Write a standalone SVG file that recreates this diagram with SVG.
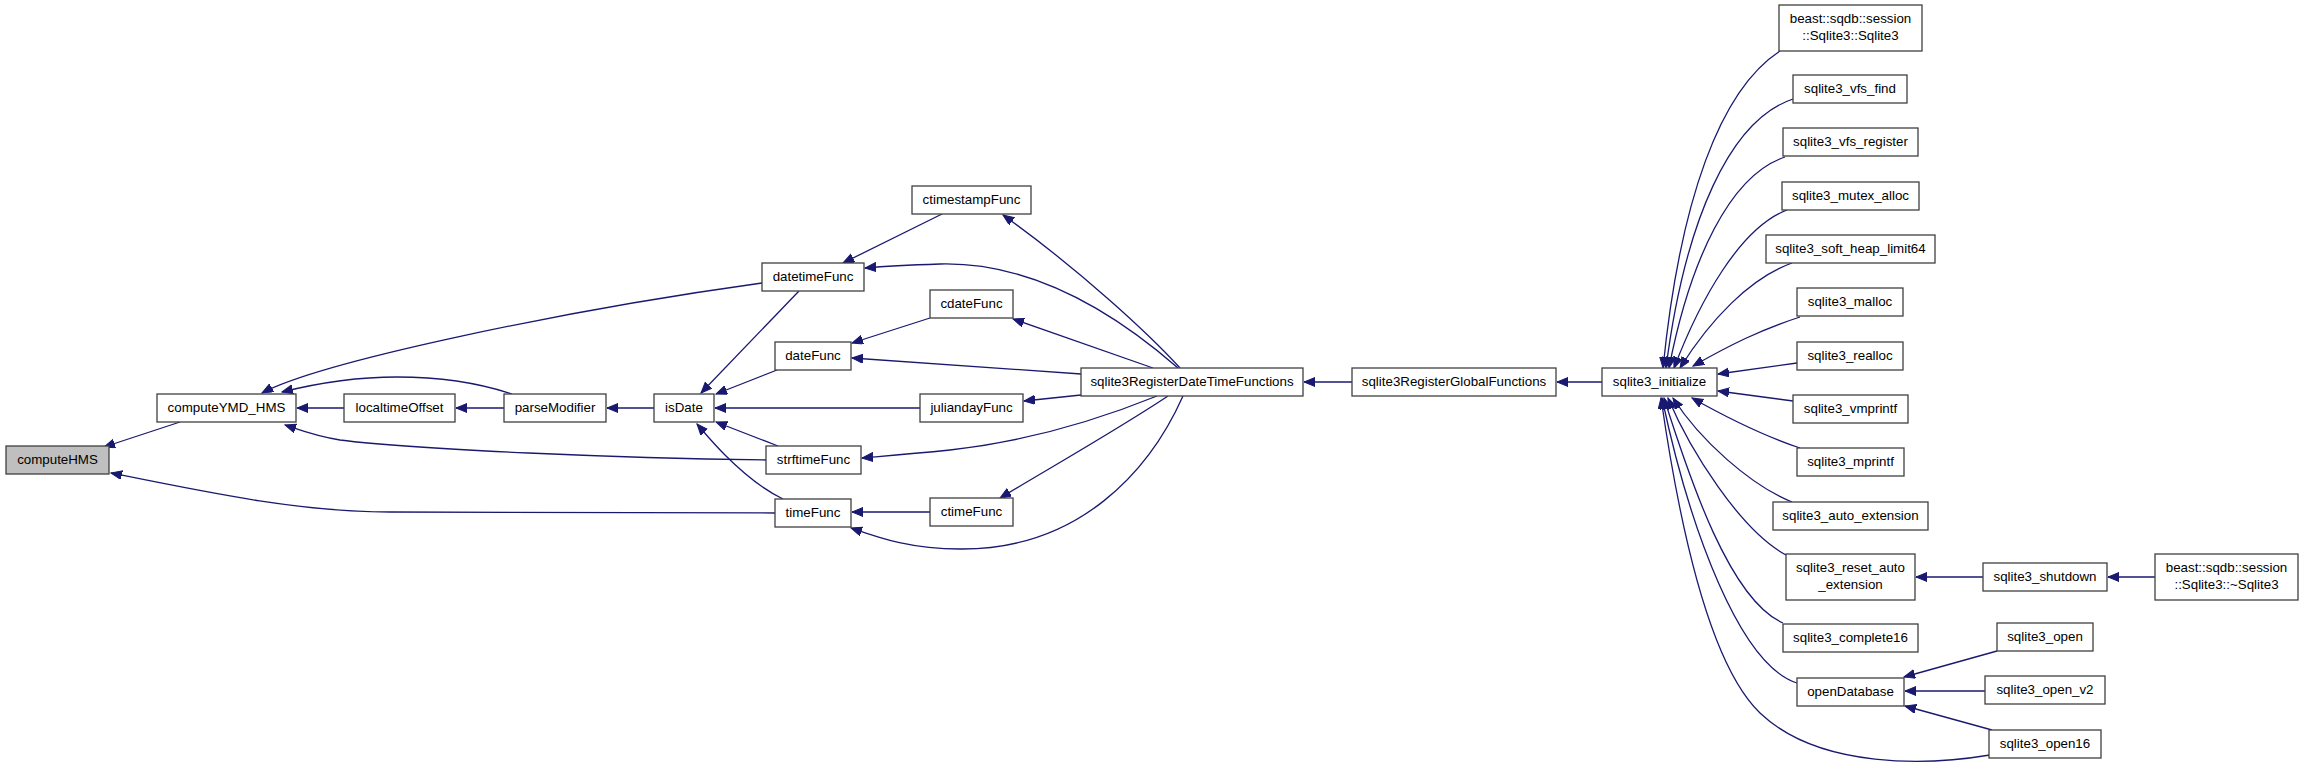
<svg xmlns="http://www.w3.org/2000/svg" width="2304" height="767" viewBox="0 0 2304 767">
<defs>
<style>
.node rect{fill:#ffffff;stroke:#404040;stroke-width:1.3}
.node.root rect{fill:#bfbfbf}
.node text{font-family:"Liberation Sans",Arial,sans-serif;font-size:13.33px;text-anchor:middle;fill:#000000}
.edge{fill:none;stroke:#191970;stroke-width:1.3;marker-end:url(#arrow)}
</style>
<marker id="arrow" markerUnits="userSpaceOnUse" markerWidth="12" markerHeight="10" refX="11" refY="4.5" orient="auto">
<path d="M0,0 L11,4.5 L0,9 z" fill="#191970" stroke="#191970" stroke-width="1"/>
</marker>
</defs>
<rect x="0" y="0" width="2304" height="767" fill="#ffffff"/>
<g id="connectors">
<path class="edge" d="M180,422 L104,447"/>
<path class="edge" d="M775,513 L390,512 C300,512 210,493 111,473"/>
<path class="edge" d="M344,408 L297,408"/>
<path class="edge" d="M762,283 C560,311 320,362 262,393"/>
<path class="edge" d="M512,394 C470,380 430,377 397,377 C350,377 310,385 282,392"/>
<path class="edge" d="M766,460 C620,458 420,450 340,440 C315,436 300,430 285,425"/>
<path class="edge" d="M504,408 L456,408"/>
<path class="edge" d="M654,408 L607,408"/>
<path class="edge" d="M799,291 L701,393"/>
<path class="edge" d="M777,370 L716,394"/>
<path class="edge" d="M920,408 L715,408"/>
<path class="edge" d="M778,446 L716,422"/>
<path class="edge" d="M783,499 C760,488 740,470 725,455 C712,442 704,432 697,424"/>
<path class="edge" d="M942,214 L843,263"/>
<path class="edge" d="M1178,368 C1100,300 1020,262 940,264 C910,265 888,266 865,268"/>
<path class="edge" d="M1180,368 C1150,335 1080,270 1003,215"/>
<path class="edge" d="M930,318 L852,343"/>
<path class="edge" d="M1153,368 L1013,319"/>
<path class="edge" d="M1081,374 L852,358"/>
<path class="edge" d="M1081,395 L1024,401"/>
<path class="edge" d="M1157,396 C1110,415 1040,440 950,450 C910,454 885,456 862,458"/>
<path class="edge" d="M1168,396 C1120,428 1060,462 1000,498"/>
<path class="edge" d="M1183,396 C1150,470 1080,550 960,549 C910,549 880,538 851,528"/>
<path class="edge" d="M930,512 L852,512"/>
<path class="edge" d="M1352,382 L1304,382"/>
<path class="edge" d="M1602,382 L1557,382"/>
<path class="edge" d="M1780,51 C1720,90 1680,200 1663,368"/>
<path class="edge" d="M1793,99 C1730,120 1685,220 1666,368"/>
<path class="edge" d="M1785,157 C1730,175 1690,260 1669,368"/>
<path class="edge" d="M1787,210 C1740,228 1700,300 1674,368"/>
<path class="edge" d="M1792,263 C1750,278 1710,320 1680,368"/>
<path class="edge" d="M1800,317 C1760,330 1730,345 1693,366"/>
<path class="edge" d="M1797,363 L1718,374"/>
<path class="edge" d="M1793,401 L1718,391"/>
<path class="edge" d="M1800,448 C1770,438 1740,425 1692,398"/>
<path class="edge" d="M1792,502 C1750,485 1700,440 1673,398"/>
<path class="edge" d="M1786,555 C1740,530 1690,450 1668,398"/>
<path class="edge" d="M1783,623 C1730,600 1690,480 1664,398"/>
<path class="edge" d="M1797,683 C1740,665 1690,530 1662,398"/>
<path class="edge" d="M1990,755 C1930,765 1820,770 1760,713 C1710,665 1680,530 1661,398"/>
<path class="edge" d="M1983,577 L1916,577"/>
<path class="edge" d="M2155,577 L2108,577"/>
<path class="edge" d="M1997,651 L1904,677"/>
<path class="edge" d="M1985,691 L1905,691"/>
<path class="edge" d="M1992,730 L1905,706"/>
</g>
<g id="computeHMS" class="node root"><rect x="6" y="446" width="103" height="28"/><text x="57.5" y="464">computeHMS</text></g>
<g id="computeYMD_HMS" class="node"><rect x="157" y="394" width="139" height="28"/><text x="226.5" y="412">computeYMD_HMS</text></g>
<g id="localtimeOffset" class="node"><rect x="344" y="394" width="111" height="28"/><text x="399.5" y="412">localtimeOffset</text></g>
<g id="parseModifier" class="node"><rect x="504" y="394" width="102" height="28"/><text x="555" y="412">parseModifier</text></g>
<g id="isDate" class="node"><rect x="654" y="394" width="60" height="28"/><text x="684" y="412">isDate</text></g>
<g id="datetimeFunc" class="node"><rect x="762" y="263" width="102" height="28"/><text x="813" y="281">datetimeFunc</text></g>
<g id="ctimestampFunc" class="node"><rect x="912" y="186" width="119" height="28"/><text x="971.5" y="204">ctimestampFunc</text></g>
<g id="cdateFunc" class="node"><rect x="930" y="290" width="83" height="28"/><text x="971.5" y="308">cdateFunc</text></g>
<g id="dateFunc" class="node"><rect x="775" y="342" width="76" height="28"/><text x="813" y="360">dateFunc</text></g>
<g id="juliandayFunc" class="node"><rect x="920" y="394" width="103" height="28"/><text x="971.5" y="412">juliandayFunc</text></g>
<g id="strftimeFunc" class="node"><rect x="766" y="446" width="95" height="28"/><text x="813.5" y="464">strftimeFunc</text></g>
<g id="timeFunc" class="node"><rect x="775" y="499" width="76" height="28"/><text x="813" y="517">timeFunc</text></g>
<g id="ctimeFunc" class="node"><rect x="930" y="498" width="83" height="28"/><text x="971.5" y="516">ctimeFunc</text></g>
<g id="sqlite3RegisterDateTimeFunctions" class="node"><rect x="1081" y="368" width="222" height="28"/><text x="1192" y="386">sqlite3RegisterDateTimeFunctions</text></g>
<g id="sqlite3RegisterGlobalFunctions" class="node"><rect x="1352" y="368" width="204" height="28"/><text x="1454" y="386">sqlite3RegisterGlobalFunctions</text></g>
<g id="sqlite3_initialize" class="node"><rect x="1602" y="368" width="115" height="28"/><text x="1659.5" y="386">sqlite3_initialize</text></g>
<g id="beast_Sqlite3_ctor" class="node"><rect x="1779" y="5" width="143" height="46"/><text x="1850.5" y="23">beast::sqdb::session</text><text x="1850.5" y="40">::Sqlite3::Sqlite3</text></g>
<g id="sqlite3_vfs_find" class="node"><rect x="1793" y="75" width="114" height="28"/><text x="1850" y="93">sqlite3_vfs_find</text></g>
<g id="sqlite3_vfs_register" class="node"><rect x="1783" y="128" width="135" height="28"/><text x="1850.5" y="146">sqlite3_vfs_register</text></g>
<g id="sqlite3_mutex_alloc" class="node"><rect x="1782" y="182" width="137" height="28"/><text x="1850.5" y="200">sqlite3_mutex_alloc</text></g>
<g id="sqlite3_soft_heap_limit64" class="node"><rect x="1766" y="235" width="169" height="28"/><text x="1850.5" y="253">sqlite3_soft_heap_limit64</text></g>
<g id="sqlite3_malloc" class="node"><rect x="1797" y="288" width="106" height="28"/><text x="1850" y="306">sqlite3_malloc</text></g>
<g id="sqlite3_realloc" class="node"><rect x="1797" y="342" width="106" height="28"/><text x="1850" y="360">sqlite3_realloc</text></g>
<g id="sqlite3_vmprintf" class="node"><rect x="1793" y="395" width="115" height="28"/><text x="1850.5" y="413">sqlite3_vmprintf</text></g>
<g id="sqlite3_mprintf" class="node"><rect x="1797" y="448" width="107" height="28"/><text x="1850.5" y="466">sqlite3_mprintf</text></g>
<g id="sqlite3_auto_extension" class="node"><rect x="1773" y="502" width="155" height="28"/><text x="1850.5" y="520">sqlite3_auto_extension</text></g>
<g id="sqlite3_reset_auto_extension" class="node"><rect x="1786" y="554" width="129" height="46"/><text x="1850.5" y="572">sqlite3_reset_auto</text><text x="1850.5" y="589">_extension</text></g>
<g id="sqlite3_complete16" class="node"><rect x="1783" y="624" width="135" height="28"/><text x="1850.5" y="642">sqlite3_complete16</text></g>
<g id="openDatabase" class="node"><rect x="1797" y="678" width="107" height="28"/><text x="1850.5" y="696">openDatabase</text></g>
<g id="sqlite3_shutdown" class="node"><rect x="1983" y="563" width="124" height="28"/><text x="2045" y="581">sqlite3_shutdown</text></g>
<g id="beast_Sqlite3_dtor" class="node"><rect x="2155" y="554" width="143" height="46"/><text x="2226.5" y="572">beast::sqdb::session</text><text x="2226.5" y="589">::Sqlite3::~Sqlite3</text></g>
<g id="sqlite3_open" class="node"><rect x="1997" y="623" width="96" height="28"/><text x="2045" y="641">sqlite3_open</text></g>
<g id="sqlite3_open_v2" class="node"><rect x="1985" y="676" width="120" height="28"/><text x="2045" y="694">sqlite3_open_v2</text></g>
<g id="sqlite3_open16" class="node"><rect x="1989" y="730" width="112" height="28"/><text x="2045" y="748">sqlite3_open16</text></g>
</svg>
